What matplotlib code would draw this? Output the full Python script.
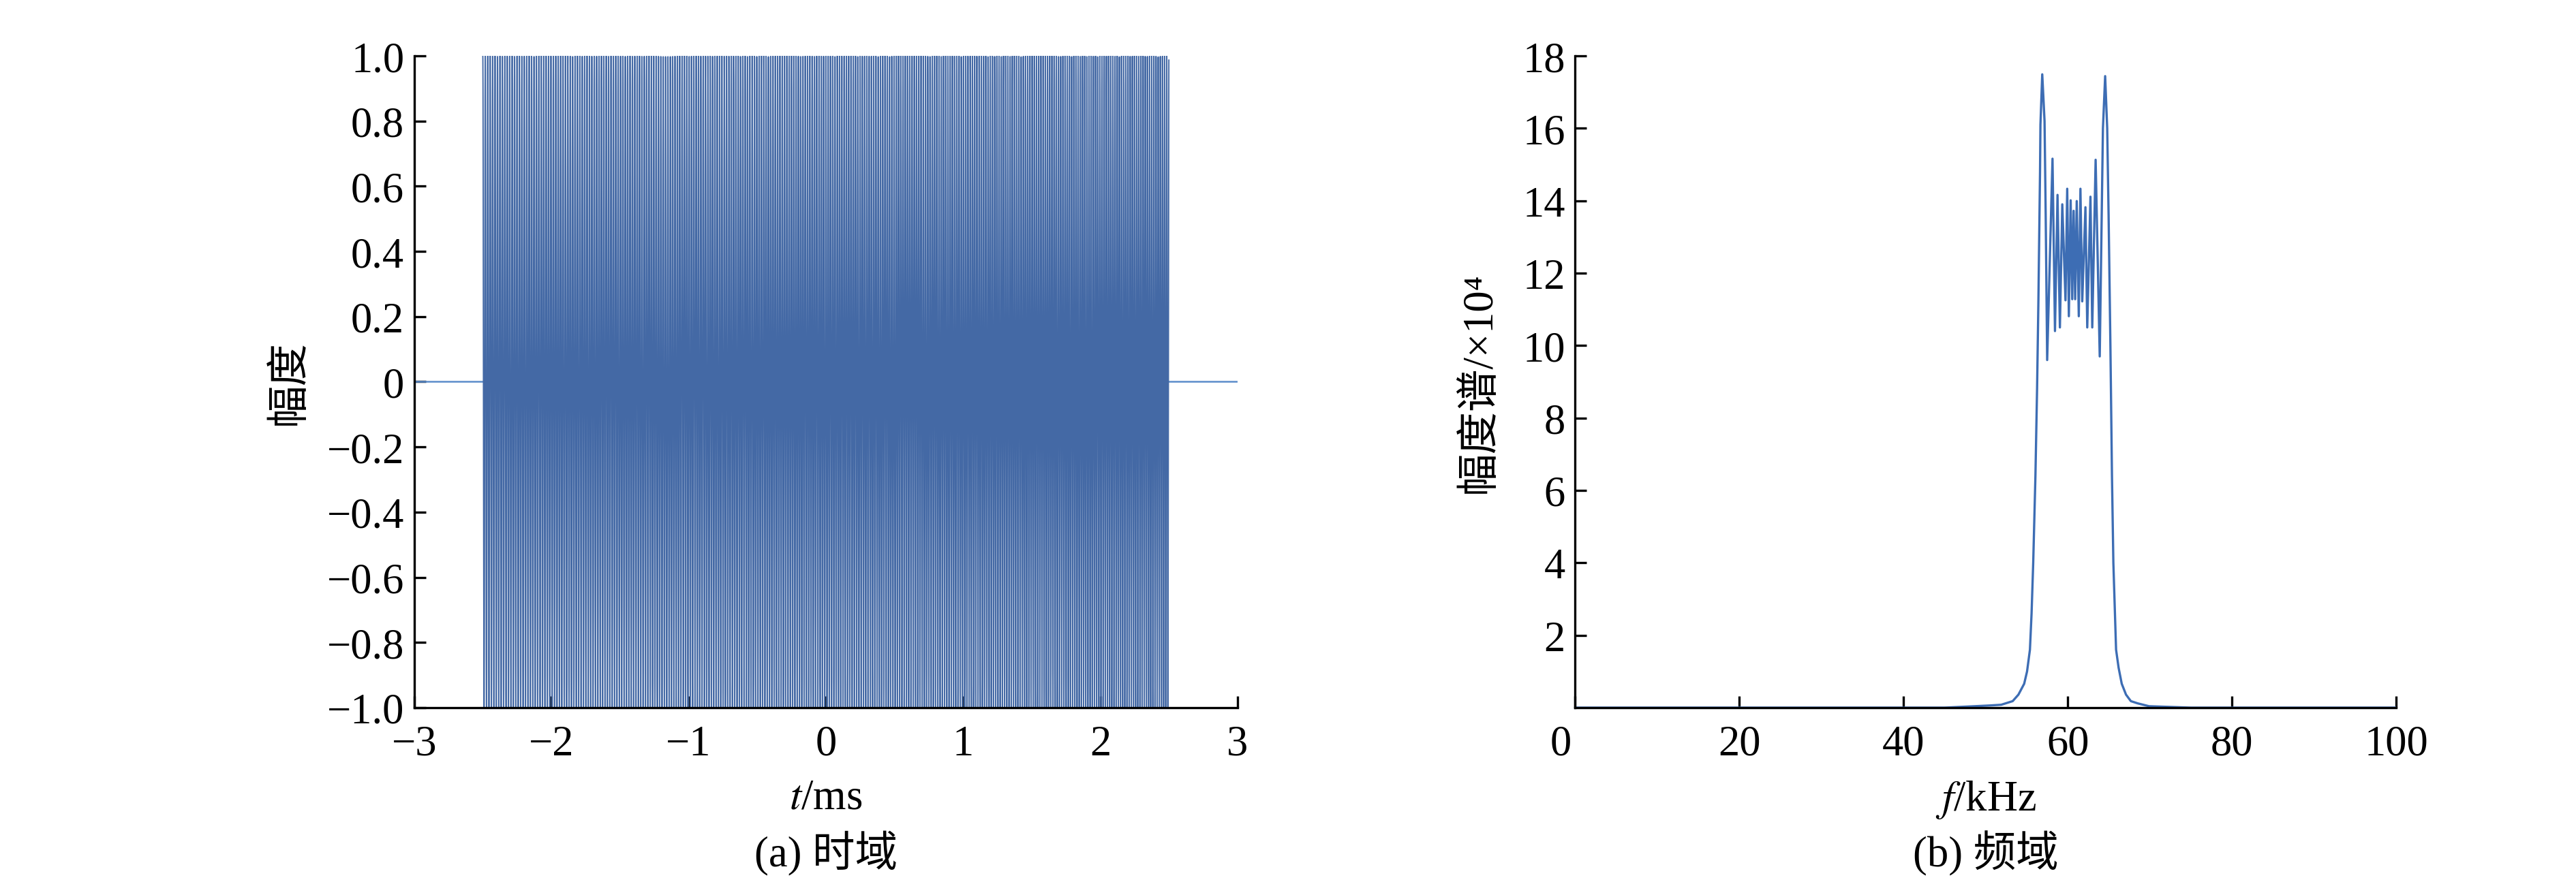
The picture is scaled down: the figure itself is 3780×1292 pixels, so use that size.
import numpy as np
import matplotlib
matplotlib.use('Agg')
import matplotlib.pyplot as plt
import matplotlib.transforms as mtransforms

plt.rcParams['font.family'] = ['Liberation Serif', 'Noto Sans CJK SC', 'DejaVu Serif']
plt.rcParams['mathtext.fontset'] = 'stix'
plt.rcParams['axes.unicode_minus'] = True

# chirp pulse: start / end time in ms, sweep in kHz
pulse_start = -2.5
pulse_end = 2.5
sweep_start = 56.0
sweep_stop = 64.0
time_axis = [-3.0, 3.0]

# spectrum: frequency in kHz, magnitude in 1e4
spec_freq = [0.0, 45.0, 50.5, 51.9, 53.3, 54.0, 54.7, 55.05, 55.4, 55.6, 55.8, 56.07, 56.27,
             56.43, 56.63, 56.68, 56.9, 57.18, 57.32, 57.5, 58.15, 58.45, 58.76, 59.05,
             59.34, 59.73, 59.94, 60.14, 60.36, 60.55, 60.72, 60.91, 61.10, 61.35, 61.55,
             61.77, 62.16, 62.38, 62.77, 62.99, 63.40, 63.9, 64.29, 64.56, 64.81, 64.98,
             65.20, 65.39, 65.56, 65.89, 66.2, 66.58, 67.1, 67.69, 68.5, 69.9, 75.0, 100.0]
spec_mag = [0.0, 0.0, 0.06, 0.08, 0.18, 0.36, 0.66, 1.0, 1.6, 2.6, 4.0, 6.4, 8.8,
            11.2, 14.8, 16.1, 17.49, 16.2, 13.6, 9.6, 15.16, 10.4, 14.16, 10.5,
            13.9, 11.25, 14.33, 10.81, 14.01, 11.28, 13.72, 11.28, 13.99, 10.81, 14.33,
            11.22, 13.82, 10.5, 14.11, 10.5, 15.13, 9.7, 16.0, 17.44, 16.0, 13.6,
            10.0, 6.4, 4.0, 1.6, 1.1, 0.66, 0.36, 0.18, 0.12, 0.04, 0.0, 0.0]

# build the pulse (time in ms, frequency in kHz)
t = np.arange(pulse_start, pulse_end, 0.0004)
rate = (sweep_stop - sweep_start) / (pulse_end - pulse_start)
f0 = (sweep_start + sweep_stop) / 2
sig = np.cos(2 * np.pi * (f0 * t + 0.5 * rate * t ** 2))

fig = plt.figure(figsize=(12.6, 4.31), dpi=300)
ax1 = fig.add_axes([0.1608, 0.1957, 0.3196, 0.7401])
ax2 = fig.add_axes([0.6114, 0.1957, 0.3188, 0.7401])

ax1.plot(time_axis, [0, 0], color='#5b8ccb', lw=0.6)
ax1.plot(t, sig, color='#4469a5', lw=0.45)
ax1.set_xlim(-3, 3)
ax1.set_ylim(-1, 1)
ax1.set_xticks(np.arange(-3, 4, 1))
yt = np.round(np.arange(-1.0, 1.01, 0.2), 1)
ax1.set_yticks(yt)
ax1.set_yticklabels(['0' if v == 0 else ('%.1f' % v).replace('-', '\u2212') for v in yt])
ax1.set_xlabel(r'$t$/ms', fontsize=15, labelpad=5)
ax1.set_ylabel('幅度', fontsize=15, labelpad=6)

ax2.plot(spec_freq, spec_mag, color='#3d6db4', lw=0.8)
ax2.set_xlim(0, 100)
ax2.set_ylim(0, 18)
ax2.set_xticks(np.arange(0, 101, 20))
ax2.set_yticks(np.arange(2, 19, 2))
ax2.set_xlabel(r'$f$/kHz', fontsize=15, labelpad=5)
ax2.set_ylabel('幅度谱/×10⁴', fontsize=15, labelpad=8)

for ax in [ax1, ax2]:
    ax.spines['top'].set_visible(False)
    ax.spines['right'].set_visible(False)
    ax.spines['left'].set_linewidth(0.8)
    ax.spines['bottom'].set_linewidth(0.8)
    ax.tick_params(direction='in', length=4, width=0.8, labelsize=15)
    ax.tick_params(axis='x', pad=6)
    ax.tick_params(axis='y', pad=3.5)

# the "0" under panel (b) sits a little left of the corner
lab0 = ax2.get_xticklabels()[0]
lab0.set_transform(lab0.get_transform() + mtransforms.ScaledTranslation(-5 / 72, 0, fig.dpi_scale_trans))

fig.text(0.3206, 0.031, '(a) 时域', fontsize=15, ha='center', va='center')
fig.text(0.7708, 0.031, '(b) 频域', fontsize=15, ha='center', va='center')

fig.savefig('out.png', dpi=300)
